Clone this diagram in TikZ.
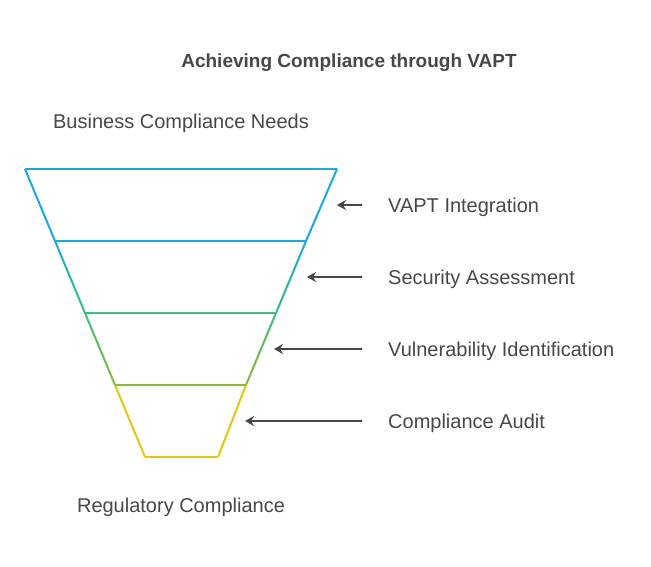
\documentclass[tikz,border=0pt]{standalone}
\usepackage{fontspec}
\setmainfont{Liberation Sans}
\usepackage{tikz}
\usetikzlibrary{positioning,arrows.meta}

\definecolor{fblue}{HTML}{1DA9DA}
\definecolor{fgreen}{HTML}{3CBF7F}
\definecolor{folive}{HTML}{8DB83A}
\definecolor{fyellow}{HTML}{E1C816}
\definecolor{txtgray}{HTML}{474747}

\begin{document}
\begin{tikzpicture}[x=1pt, y=-1pt,
                    lbl/.style={inner sep=0pt, text=txtgray, font=\fontsize{20}{23}\selectfont},
                    arr/.style={-{Stealth[length=9pt,width=10pt]}, line width=2pt, draw=txtgray},
                    level/.style={line width=2pt}
                    ]
    \useasboundingbox (0,0) rectangle (651,566);
    % funnel corners
    \coordinate (L0) at (25,169);  \coordinate (R0) at (337,169);
    \coordinate (L1) at (55,241);  \coordinate (R1) at (306,241);
    \coordinate (L2) at (85,313);  \coordinate (R2) at (276,313);
    \coordinate (L3) at (115,385); \coordinate (R3) at (246,385);
    \coordinate (L4) at (145,457); \coordinate (R4) at (218,457);
    % sides, shaded from one level colour to the next
    \foreach \a/\b/\ca/\cb in {0/1/fblue/fblue, 1/2/fblue/fgreen, 2/3/fgreen/folive, 3/4/fyellow/fyellow}{
        \shade[top color=\ca, bottom color=\cb]
            ([xshift=-1.1pt]L\a) -- ([xshift=1.1pt]L\a) -- ([xshift=1.1pt]L\b) -- ([xshift=-1.1pt]L\b) -- cycle;
        \shade[top color=\ca, bottom color=\cb]
            ([xshift=-1.1pt]R\a) -- ([xshift=1.1pt]R\a) -- ([xshift=1.1pt]R\b) -- ([xshift=-1.1pt]R\b) -- cycle;
    }
    % level lines
    \draw[level, fblue] (L0) -- (R0);
    \draw[level, fblue] (L1) -- (R1);
    \draw[level, fgreen] (L2) -- (R2);
    \draw[level, folive] (L3) -- (R3);
    \draw[level, fyellow] (L4) -- (R4);

    \node[lbl, anchor=base, font=\bfseries\fontsize{19}{22}\selectfont] (title) at (349,67) {Achieving Compliance through VAPT};
    \node[lbl, anchor=base] (top) at (181,128) {Business Compliance Needs};
    \node[lbl, anchor=base] (bottom) at (181,512) {Regulatory Compliance};

    \node[lbl, anchor=base west] (vapt) at (388,212) {VAPT Integration};
    \node[lbl, anchor=base west] (sec) at (388,284) {Security Assessment};
    \node[lbl, anchor=base west] (vuln) at (388,356) {Vulnerability Identification};
    \node[lbl, anchor=base west] (audit) at (388,428) {Compliance Audit};

    \coordinate (s1) at (362,205); \coordinate (t1) at (337,205);
    \coordinate (s2) at (362,277); \coordinate (t2) at (307,277);
    \coordinate (s3) at (362,349); \coordinate (t3) at (274,349);
    \coordinate (s4) at (362,421); \coordinate (t4) at (245,421);
    \draw[arr] (s1) -- (t1);
    \draw[arr] (s2) -- (t2);
    \draw[arr] (s3) -- (t3);
    \draw[arr] (s4) -- (t4);
\end{tikzpicture}
\end{document}
